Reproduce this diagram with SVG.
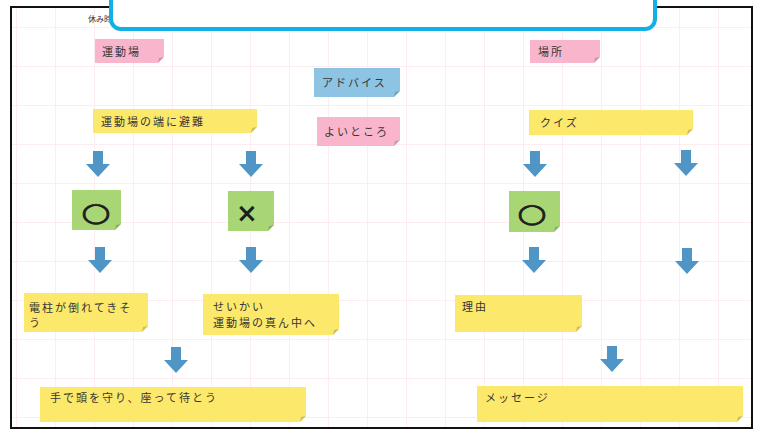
<svg xmlns="http://www.w3.org/2000/svg" width="759" height="430" viewBox="0 0 759 430">
<style>
.y{fill:#fce86a}
.p{fill:#f8b5cc}
.b{fill:#8dc3e3}
.g{fill:#a9d675}
.fold{fill:#000;opacity:0.18}
.t{font-family:"Noto Sans CJK JP","Noto Sans",sans-serif;font-size:11px;fill:#363636;letter-spacing:2px}
.arr{fill:#4f96c6}
.sym{font-family:"DejaVu Sans","Noto Sans CJK JP",sans-serif;fill:#1e1e1e}
</style>
<defs>
<pattern id="grid" x="16" y="27" width="39" height="39" patternUnits="userSpaceOnUse">
<path d="M0.5 0V39M0 0.5H39" stroke="#fdedf1" stroke-width="1" fill="none"/>
</pattern>
<path id="arrow" d="M-5 0H5V13H12L0 26L-12 13H-5Z"/>
</defs>
<rect width="759" height="430" fill="#fff"/>
<rect x="12" y="8" width="739" height="419" fill="url(#grid)"/>
<rect x="11" y="7" width="741" height="421" fill="none" stroke="#111" stroke-width="2"/>
<text x="88" y="22" font-family="Noto Sans CJK JP,sans-serif" font-size="8" fill="#333">休み時間</text>
<rect x="111" y="-20" width="544" height="49" rx="10" fill="#fff" stroke="#12b0e8" stroke-width="4"/>

<g id="n-undoujou">
<path class="p" d="M95 39H164V57L158 63H95Z"/><path class="fold" d="M164 57L158 63L159 58Z"/>
<text class="t" x="102" y="56">運動場</text></g>
<g id="n-advice">
<path class="b" d="M314 68H400V91L394 97H314Z"/><path class="fold" d="M400 91L394 97L395 92Z"/>
<text class="t" x="322" y="87">アドバイス</text></g>
<g id="n-yoi">
<path class="p" d="M317 117H400V140L394 146H317Z"/><path class="fold" d="M400 140L394 146L395 141Z"/>
<text class="t" x="324" y="136">よいところ</text></g>
<g id="n-hinan">
<path class="y" d="M93 109H257V127L251 133H93Z"/><path class="fold" d="M257 127L251 133L252 128Z"/>
<text class="t" x="101" y="126">運動場の端に避難</text></g>
<g id="n-basho">
<path class="p" d="M530 40H600V57L594 63H530Z"/><path class="fold" d="M600 57L594 63L595 58Z"/>
<text class="t" x="538" y="56">場所</text></g>
<g id="n-quiz">
<path class="y" d="M529 110H693V129L687 135H529Z"/><path class="fold" d="M693 129L687 135L688 130Z"/>
<text class="t" x="540" y="127">クイズ</text></g>
<g id="n-maru1">
<path class="g" d="M72 190H121V224L115 230H72Z"/><path class="fold" d="M121 224L115 230L116 225Z"/>
<text class="sym" font-size="26" text-anchor="middle" stroke="#1e1e1e" stroke-width="0.7" transform="translate(96,221) scale(1.3,1)">○</text></g>
<g id="n-batsu">
<path class="g" d="M228 191H274V225L268 231H228Z"/><path class="fold" d="M274 225L268 231L269 226Z"/>
<text class="sym" font-size="26" font-weight="bold" text-anchor="middle" x="247" y="222">×</text></g>
<g id="n-maru2">
<path class="g" d="M509 191H560V226L554 232H509Z"/><path class="fold" d="M560 226L554 232L555 227Z"/>
<text class="sym" font-size="26" text-anchor="middle" stroke="#1e1e1e" stroke-width="0.7" transform="translate(532,222) scale(1.3,1)">○</text></g>
<g id="n-denchuu">
<path class="y" d="M24 293H148V326L142 332H24Z"/><path class="fold" d="M148 326L142 332L143 327Z"/>
<text class="t" x="29" y="312">電柱が倒れてきそ</text><text class="t" x="29" y="327">う</text></g>
<g id="n-seikai">
<path class="y" d="M203 294H339V329L333 335H203Z"/><path class="fold" d="M339 329L333 335L334 330Z"/>
<text class="t" x="213" y="311">せいかい</text><text class="t" x="213" y="327">運動場の真ん中へ</text></g>
<g id="n-riyuu">
<path class="y" d="M455 295H582V326L576 332H455Z"/><path class="fold" d="M582 326L576 332L577 327Z"/>
<text class="t" x="462" y="311">理由</text></g>
<g id="n-mamori">
<path class="y" d="M40 387H306V416L300 422H40Z"/><path class="fold" d="M306 416L300 422L301 417Z"/>
<text class="t" x="50" y="402">手で頭を守り、座って待とう</text></g>
<g id="n-message">
<path class="y" d="M477 386H743V416L737 422H477Z"/><path class="fold" d="M743 416L737 422L738 417Z"/>
<text class="t" x="485" y="402">メッセージ</text></g>

<g id="connectors" class="arr">
<use href="#arrow" x="98" y="151"/>
<use href="#arrow" x="251" y="151"/>
<use href="#arrow" x="535" y="151"/>
<use href="#arrow" x="686" y="150"/>
<use href="#arrow" x="100" y="247"/>
<use href="#arrow" x="251" y="247"/>
<use href="#arrow" x="534" y="247"/>
<use href="#arrow" x="687" y="248"/>
<use href="#arrow" x="176" y="347"/>
<use href="#arrow" x="612" y="346"/>
</g>
</svg>
